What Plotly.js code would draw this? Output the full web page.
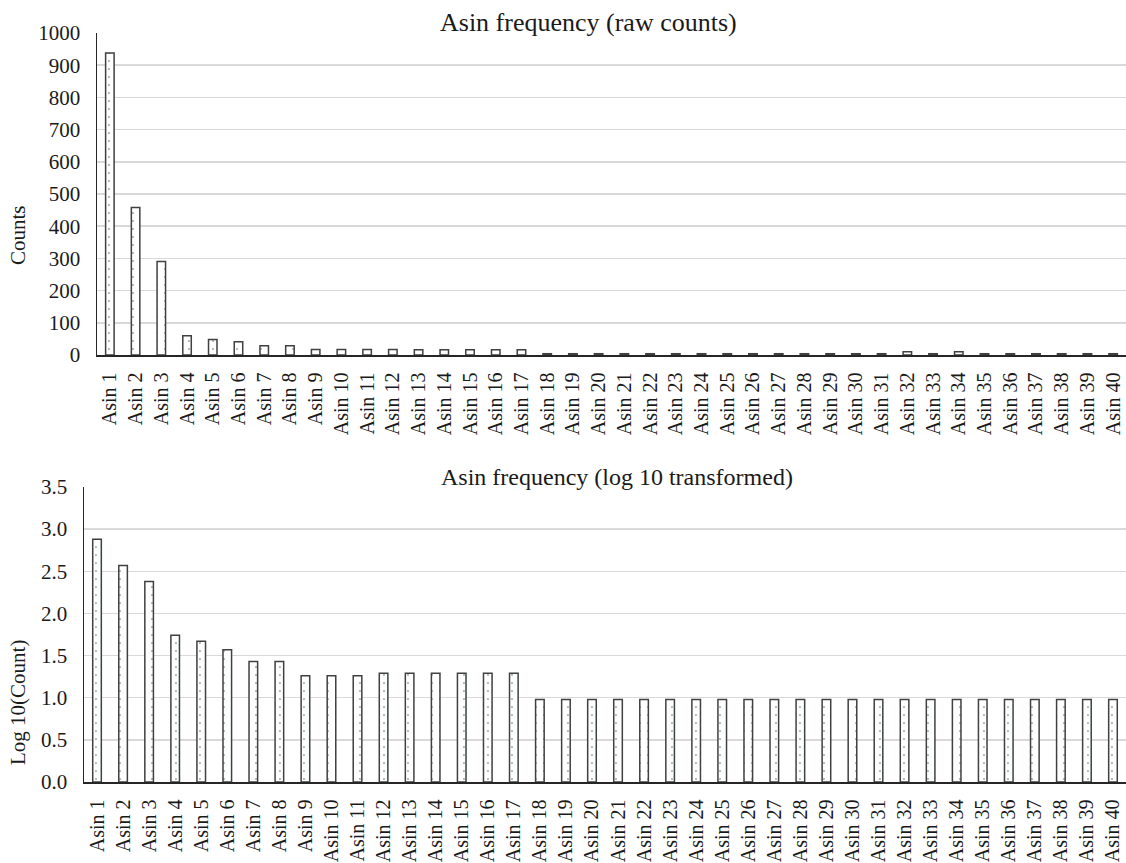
<!DOCTYPE html>
<html>
<head>
<meta charset="utf-8">
<script src="https://cdn.plot.ly/plotly-3.0.1.min.js"></script>
<style>
html,body{margin:0;padding:0;overflow:hidden;background:#fff;}
#chart{width:1126px;height:863px;}
</style>
</head>
<body>
<div id="chart"></div>
<script>
const categories = [];
for (let i = 1; i <= 40; i++) categories.push('Asin ' + i);

const rawCounts = [938, 458, 290, 60, 48, 41, 29, 29, 17, 17,
                   17, 17, 16, 16, 16, 16, 16, 4, 4, 4,
                   4, 4, 4, 4, 4, 4, 4, 4, 4, 4,
                   4, 10, 4, 10, 4, 4, 4, 4, 4, 4];

const logCounts = [2.88, 2.57, 2.38, 1.74, 1.67, 1.57, 1.43, 1.43, 1.26, 1.26,
                   1.26, 1.29, 1.29, 1.29, 1.29, 1.29, 1.29, 0.98, 0.98, 0.98,
                   0.98, 0.98, 0.98, 0.98, 0.98, 0.98, 0.98, 0.98, 0.98, 0.98,
                   0.98, 0.98, 0.98, 0.98, 0.98, 0.98, 0.98, 0.98, 0.98, 0.98];

const topTitle = 'Asin frequency (raw counts)';
const bottomTitle = 'Asin frequency (log 10 transformed)';
const topYTitle = 'Counts';
const bottomYTitle = 'Log 10(Count)';

const FONT = '"Liberation Serif", "Times New Roman", Times, serif';
const TXT = '#1a1a1a';
const W = 1126, H = 863;

const barMarker = {
  color: 'white',
  line: {color: '#404040', width: 1.5},
  pattern: {shape: '.', fgcolor: '#134e6f', bgcolor: 'white', fillmode: 'overlay', size: 8, solidity: 0.045}
};

const traces = [
  {type: 'bar', x: categories, y: rawCounts, xaxis: 'x', yaxis: 'y', marker: barMarker, hoverinfo: 'x+y'},
  {type: 'bar', x: categories, y: logCounts, xaxis: 'x2', yaxis: 'y2', marker: barMarker, hoverinfo: 'x+y'}
];

const xcommon = {
  type: 'category', tickangle: -90, showgrid: false, zeroline: false,
  showline: true, linecolor: '#262626', linewidth: 1.5,
  ticks: 'outside', ticklen: 8, tickcolor: 'rgba(0,0,0,0)',
  tickfont: {family: FONT, size: 20, color: TXT}, automargin: false
};
const ycommon = {
  showgrid: true, gridcolor: '#d9d9d9', gridwidth: 1.5, zeroline: false,
  showline: true, linecolor: '#262626', linewidth: 1.5,
  ticks: 'outside', ticklen: 11, tickcolor: 'rgba(0,0,0,0)',
  tickfont: {family: FONT, size: 21, color: TXT}, automargin: false
};

const layout = {
  width: W, height: H,
  margin: {l: 0, r: 0, t: 0, b: 0},
  paper_bgcolor: 'white', plot_bgcolor: 'white',
  showlegend: false, bargap: 0.67,
  font: {family: FONT, color: TXT},
  xaxis: Object.assign({}, xcommon, {domain: [97 / W, 1], anchor: 'y'}),
  yaxis: Object.assign({}, ycommon, {domain: [1 - 355 / H, 1 - 33 / H], range: [0, 1000], dtick: 100, anchor: 'x'}),
  xaxis2: Object.assign({}, xcommon, {domain: [84 / W, 1], anchor: 'y2'}),
  yaxis2: Object.assign({}, ycommon, {domain: [1 - 782 / H, 1 - 487 / H], range: [0, 3.5], dtick: 0.5, tickformat: '.1f', anchor: 'x2'}),
  annotations: [
    {text: topTitle, xref: 'paper', yref: 'paper', x: 588 / W, y: 1 - 23 / H, xanchor: 'center', yanchor: 'middle', showarrow: false, font: {family: FONT, size: 26, color: TXT}},
    {text: bottomTitle, xref: 'paper', yref: 'paper', x: 617 / W, y: 1 - 477 / H, xanchor: 'center', yanchor: 'middle', showarrow: false, font: {family: FONT, size: 24, color: TXT}},
    {text: topYTitle, xref: 'paper', yref: 'paper', x: 18 / W, y: 1 - 235 / H, xanchor: 'center', yanchor: 'middle', textangle: -90, showarrow: false, font: {family: FONT, size: 21, color: TXT}},
    {text: bottomYTitle, xref: 'paper', yref: 'paper', x: 18 / W, y: 1 - 703 / H, xanchor: 'center', yanchor: 'middle', textangle: -90, showarrow: false, font: {family: FONT, size: 21, color: TXT}}
  ]
};

Plotly.newPlot('chart', traces, layout, {displayModeBar: false, staticPlot: true});
</script>
</body>
</html>
